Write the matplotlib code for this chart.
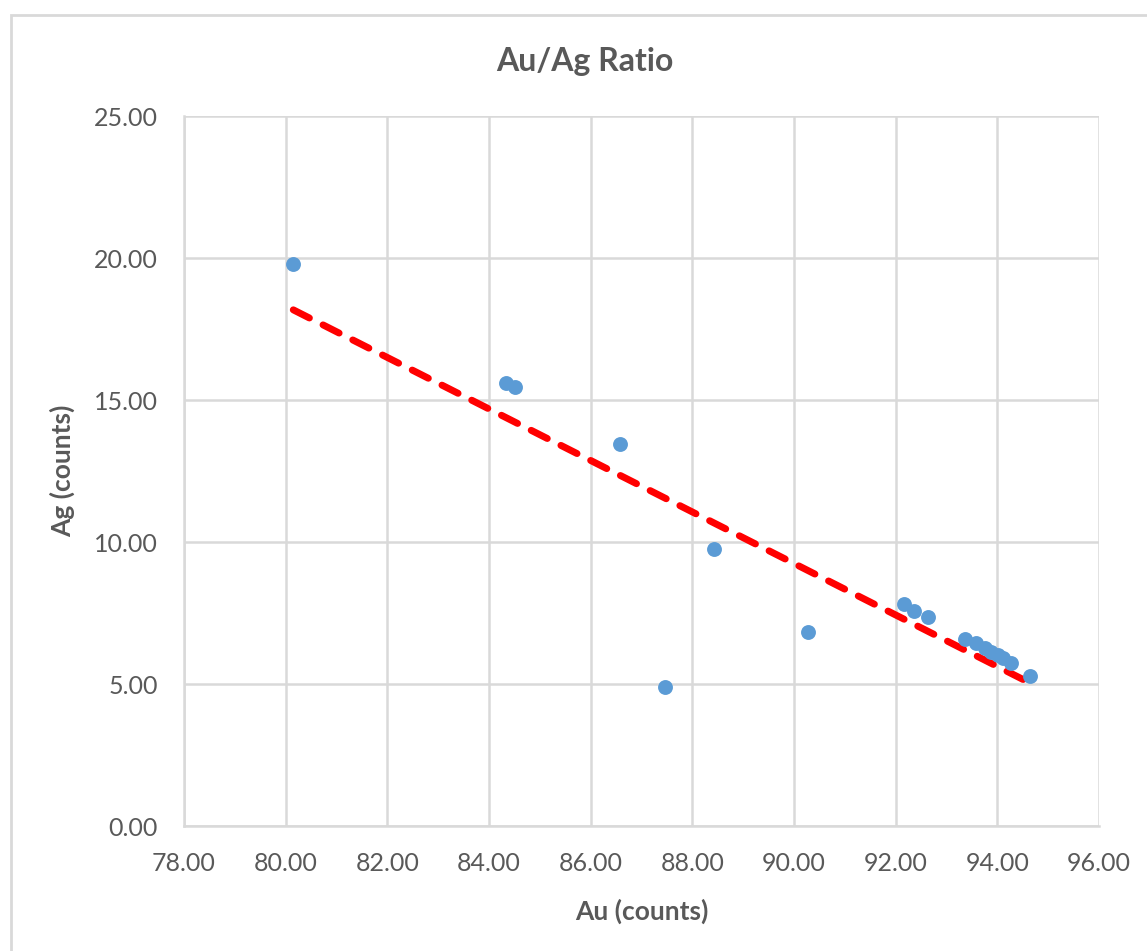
import numpy as np
import matplotlib.pyplot as plt
from matplotlib.patches import Rectangle

# Au / Ag counts
au = [80.15, 84.34, 84.51, 86.57, 88.42, 87.47, 90.28,
      92.16, 92.36, 92.63, 93.37, 93.58, 93.75, 93.88, 94.01, 94.11, 94.26, 94.65]
ag = [19.79, 15.59, 15.45, 13.45, 9.74, 4.90, 6.83,
      7.82, 7.58, 7.35, 6.60, 6.43, 6.26, 6.14, 6.02, 5.90, 5.75, 5.28]

x_ticks = np.arange(78, 97, 2)
y_ticks = np.arange(0, 26, 5)

text_col = "#595959"
plt.rcParams["font.family"] = ["Lato", "DejaVu Sans"]

fig = plt.figure(figsize=(11.47, 9.51), dpi=100, facecolor="w")
ax = fig.add_axes([184 / 1147, 125 / 951, 915 / 1147, 710 / 951])

# outer chart frame
fig.patches.append(Rectangle((11 / 1147, -0.1), 1.2, (951 - 15) / 951 + 0.1,
                             transform=fig.transFigure, fill=False,
                             edgecolor="#D9D9D9", lw=2))

ax.scatter(au, ag, s=115, color="#5B9BD5", zorder=3, linewidths=0)

# linear trendline
m, b = np.polyfit(au, ag, 1)
xt = np.array([min(au), max(au)])
ax.plot(xt, m * xt + b, color="#FF0000", lw=5, dashes=(2.6, 2.2),
        dash_capstyle="round", zorder=2)

ax.set_xlim(78, 96)
ax.set_ylim(0, 25)
ax.set_xticks(x_ticks)
ax.set_yticks(y_ticks)
ax.set_xticklabels([f"{v:.2f}" for v in x_ticks])
ax.set_yticklabels([f"{v:.2f}" for v in y_ticks])
ax.tick_params(length=0, labelsize=18, colors=text_col, pad=19)
ax.grid(True, color="#D9D9D9", lw=1.8)
ax.set_axisbelow(True)
for spine in ("top", "right"):
    ax.spines[spine].set_visible(False)
for spine in ("bottom", "left"):
    ax.spines[spine].set_color("#D9D9D9")
    ax.spines[spine].set_linewidth(1.8)

ax.set_xlabel("Au (counts)", fontsize=19, fontweight="bold", color=text_col, labelpad=17)
ax.set_ylabel("Ag (counts)", fontsize=19, fontweight="bold", color=text_col, labelpad=13)
fig.text(585 / 1147, 1 - 62 / 951, "Au/Ag Ratio", fontsize=23, fontweight="bold",
         color=text_col, ha="center", va="center")

fig.savefig("out.png", dpi=100)
